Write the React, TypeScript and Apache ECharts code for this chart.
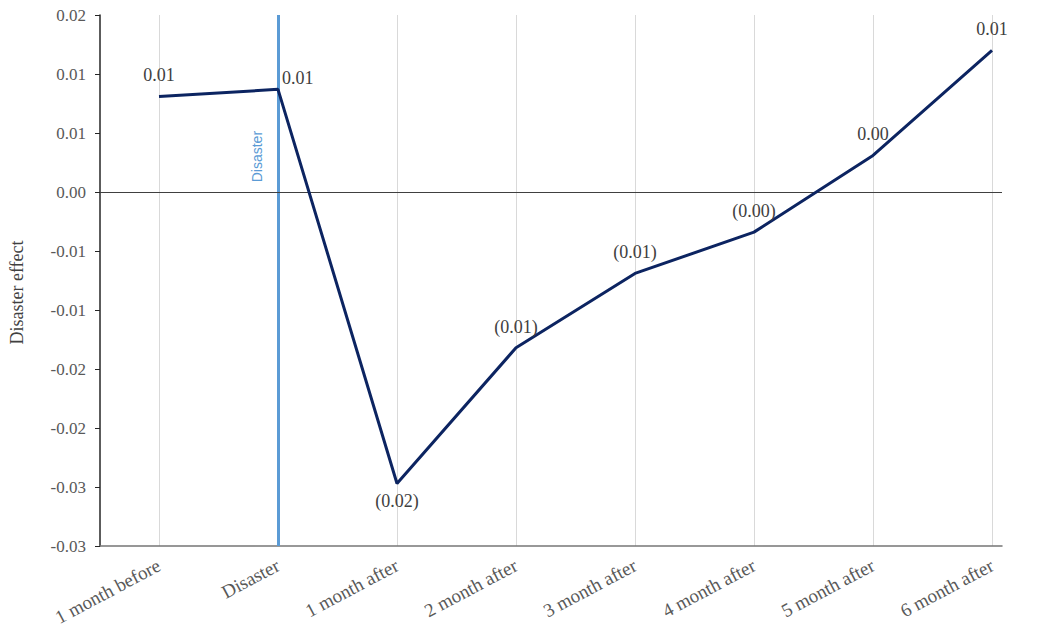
import React, { useEffect, useRef } from 'react';
import * as echarts from 'echarts';

const categories = [
  '1 month before',
  'Disaster',
  '1 month after',
  '2 month after',
  '3 month after',
  '4 month after',
  '5 month after',
  '6 month after',
];
const effects = [0.0081, 0.0087, -0.0247, -0.0132, -0.0069, -0.0034, 0.0031, 0.012];
const yMin = -0.03;
const yMax = 0.015;
const yStep = 0.005;
const eventCategory = 'Disaster';
const eventLabel = 'Disaster';
const yAxisTitle = 'Disaster effect';

const serif = "'Liberation Serif', 'Times New Roman', serif";

function fmtTick(v: number): string {
  const r = Math.round(Math.abs(v) * 100 + 1e-9) / 100;
  return (v < -1e-12 ? '-' : '') + r.toFixed(2);
}
function fmtData(v: number): string {
  const r = (Math.round(Math.abs(v) * 100 + 1e-9) / 100).toFixed(2);
  return v < 0 ? `(${r})` : r;
}

export default function App() {
  const ref = useRef<HTMLDivElement>(null);
  useEffect(() => {
    if (!ref.current) return;
    const chart = echarts.init(ref.current, undefined, { renderer: 'svg' });
    const labelOverrides: Record<number, any> = {
      1: { position: 'right', distance: 4, offset: [0, -11] },
      2: { position: 'bottom', distance: 9 },
    };
    const seriesData = effects.map((v, i) =>
      labelOverrides[i] ? { value: v, label: labelOverrides[i] } : { value: v }
    );
    chart.setOption({
      animation: false,
      backgroundColor: '#ffffff',
      grid: [
        { left: 100, right: 41, top: 15, bottom: 91 },
        { left: 159, right: 51, top: 15, bottom: 91 },
      ],
      xAxis: [
        {
          type: 'value',
          gridIndex: 0,
          min: 0,
          max: 1,
          axisLine: { show: true, onZero: false, lineStyle: { color: '#767676', width: 1.5 } },
          axisTick: { show: false },
          axisLabel: { show: false },
          splitLine: { show: false },
        },
        {
          type: 'category',
          gridIndex: 1,
          data: categories,
          boundaryGap: false,
          axisLine: { show: false },
          axisTick: { show: false, interval: 0 },
          axisLabel: {
            interval: 0,
            rotate: 28,
            margin: 18,
            color: '#595959',
            fontFamily: serif,
            fontSize: 19,
          },
          splitLine: { show: true, interval: 0, lineStyle: { color: '#d9d9d9', width: 1 } },
        },
      ],
      yAxis: [
        {
          type: 'value',
          gridIndex: 0,
          min: yMin,
          max: yMax,
          interval: yStep,
          name: yAxisTitle,
          nameLocation: 'middle',
          nameGap: 74,
          nameTextStyle: { color: '#404040', fontFamily: serif, fontSize: 18, padding: [0, 24, 0, 0] },
          axisLine: { show: true, lineStyle: { color: '#262626', width: 1.5 } },
          axisTick: { show: true, length: 5, lineStyle: { color: '#262626' } },
          axisLabel: {
            formatter: (v: number) => fmtTick(v),
            color: '#595959',
            fontFamily: serif,
            fontSize: 17,
            margin: 14,
          },
          splitLine: { show: false },
        },
        {
          type: 'value',
          gridIndex: 1,
          min: yMin,
          max: yMax,
          interval: yStep,
          show: false,
          splitLine: { show: false },
        },
      ],
      series: [
        {
          type: 'line',
          xAxisIndex: 0,
          yAxisIndex: 0,
          data: [],
          silent: true,
          markLine: {
            silent: true,
            symbol: 'none',
            label: { show: false },
            lineStyle: { color: '#404040', width: 1, type: 'solid' },
            data: [{ yAxis: 0 }],
          },
        },
        {
          type: 'line',
          xAxisIndex: 1,
          yAxisIndex: 1,
          data: seriesData,
          symbol: 'circle',
          symbolSize: 0,
          showSymbol: true,
          z: 5,
          lineStyle: { color: '#0c2461', width: 3 },
          itemStyle: { color: '#0c2461' },
          label: {
            show: true,
            position: 'top',
            distance: 12,
            formatter: (p: any) => fmtData(p.value),
            color: '#404040',
            fontFamily: serif,
            fontSize: 18,
          },
          markLine: {
            silent: true,
            symbol: 'none',
            z: 1,
            label: { show: false },
            lineStyle: { color: '#5b9bd5', width: 3, type: 'solid' },
            data: [{ xAxis: eventCategory }],
          },
        },
      ],
    });
    const px = chart.convertToPixel({ xAxisIndex: 1 }, eventCategory) as number;
    const py = chart.convertToPixel({ yAxisIndex: 1 }, 0.003) as number;
    chart.setOption({
      graphic: [
        {
          type: 'text',
          x: px - 21,
          y: py,
          rotation: Math.PI / 2,
          style: {
            text: eventLabel,
            fill: '#5b9bd5',
            font: "14px 'Liberation Sans', Arial, sans-serif",
            align: 'center',
            verticalAlign: 'middle',
          },
        },
      ],
    });
    return () => chart.dispose();
  }, []);
  return (
    <div
      ref={ref}
      style={{ position: 'fixed', left: 0, top: 0, width: 1043, height: 637, background: '#fff' }}
    />
  );
}
